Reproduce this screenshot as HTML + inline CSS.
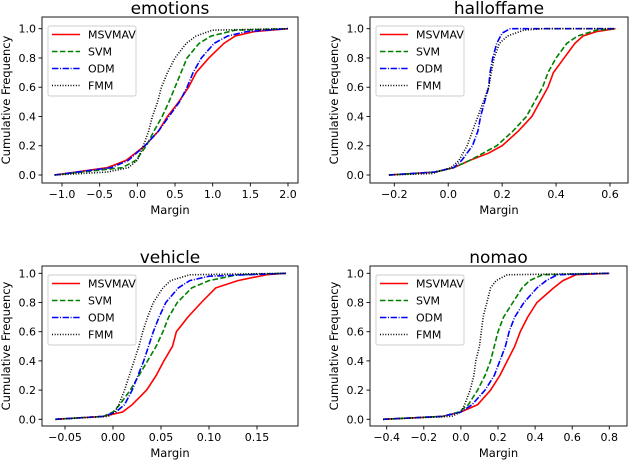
<!DOCTYPE html>
<html><head><meta charset="utf-8">
<style>
html,body{margin:0;padding:0;background:#fff;}
svg{display:block;font-family:"DejaVu Sans","Liberation Sans",sans-serif;}
</style></head>
<body>
<svg id="fig" width="630" height="462" viewBox="0 0 630 462"></svg>
<script>
// ---- data: cumulative frequency levels and margins ----
const seriesNames = ["MSVMAV","SVM","ODM","FMM"];
const emoMsvX = [-1.1,-0.4,-0.15,0.1,0.28,0.4,0.55,0.68,0.78,0.95,1.15,1.3,1.55,2.0];
const emoMsvY = [0,0.05,0.1,0.2,0.3,0.4,0.5,0.6,0.7,0.8,0.9,0.95,0.98,1.0];
const emoSvmX = [-1.1,-0.2,-0.02,0.12,0.22,0.33,0.42,0.5,0.58,0.66,0.82,0.98,1.3,2.0];
const emoSvmY = [0,0.05,0.1,0.2,0.3,0.4,0.5,0.6,0.7,0.8,0.9,0.95,0.99,1.0];
const emoOdmX = [-1.1,-0.35,-0.12,0.1,0.28,0.42,0.56,0.66,0.74,0.85,1.02,1.2,1.45,2.0];
const emoOdmY = [0,0.05,0.1,0.2,0.3,0.4,0.5,0.6,0.7,0.8,0.9,0.95,0.98,1.0];
const emoFmmX = [-1.1,-0.4,-0.12,0.0,0.08,0.15,0.2,0.27,0.32,0.4,0.5,0.65,0.78,1.0,2.0];
const emoFmmY = [0,0.02,0.05,0.1,0.2,0.3,0.4,0.5,0.6,0.7,0.8,0.9,0.95,0.99,1.0];

const hofMsvX = [-0.22,-0.05,0.02,0.08,0.15,0.2,0.26,0.31,0.34,0.37,0.39,0.43,0.47,0.5,0.55,0.62];
const hofMsvY = [0,0.02,0.05,0.1,0.15,0.2,0.3,0.4,0.5,0.6,0.7,0.8,0.9,0.95,0.98,1.0];
const hofSvmX = [-0.22,-0.05,0.02,0.08,0.13,0.18,0.24,0.29,0.32,0.35,0.37,0.4,0.44,0.48,0.55,0.62];
const hofSvmY = [0,0.02,0.05,0.1,0.15,0.2,0.3,0.4,0.5,0.6,0.7,0.8,0.9,0.95,0.99,1.0];
const hofOdmX = [-0.22,-0.05,0.02,0.05,0.09,0.11,0.12,0.135,0.15,0.155,0.165,0.18,0.2,0.23,0.62];
const hofOdmY = [0,0.02,0.05,0.1,0.2,0.3,0.4,0.5,0.6,0.7,0.8,0.9,0.97,1.0,1.0];
const hofFmmX = [-0.22,-0.06,0.01,0.04,0.07,0.09,0.11,0.13,0.15,0.16,0.17,0.19,0.22,0.28,0.35,0.62];
const hofFmmY = [0,0.01,0.05,0.1,0.2,0.3,0.4,0.5,0.6,0.7,0.8,0.9,0.95,0.99,1.0,1.0];

const vehMsvX = [-0.06,-0.01,0.01,0.02,0.035,0.045,0.053,0.062,0.066,0.078,0.092,0.107,0.13,0.16,0.18];
const vehMsvY = [0,0.02,0.05,0.1,0.2,0.3,0.4,0.5,0.6,0.7,0.8,0.9,0.95,0.99,1.0];
const vehSvmX = [-0.06,-0.01,0.0,0.007,0.018,0.027,0.036,0.045,0.052,0.058,0.067,0.082,0.1,0.13,0.18];
const vehSvmY = [0,0.02,0.05,0.1,0.2,0.3,0.4,0.5,0.6,0.7,0.8,0.9,0.95,0.99,1.0];
const vehOdmX = [-0.06,-0.01,0.003,0.012,0.02,0.026,0.032,0.037,0.042,0.048,0.055,0.068,0.08,0.1,0.18];
const vehOdmY = [0,0.02,0.05,0.1,0.2,0.3,0.4,0.5,0.6,0.7,0.8,0.9,0.95,0.98,1.0];
const vehFmmX = [-0.06,-0.005,0.002,0.006,0.012,0.017,0.022,0.027,0.031,0.036,0.042,0.052,0.06,0.08,0.18];
const vehFmmY = [0,0.02,0.05,0.1,0.2,0.3,0.4,0.5,0.6,0.7,0.8,0.9,0.95,0.99,1.0];

const nomMsvX = [-0.42,-0.1,0.0,0.09,0.16,0.21,0.25,0.29,0.32,0.36,0.41,0.5,0.55,0.62,0.8];
const nomMsvY = [0,0.02,0.05,0.1,0.2,0.3,0.4,0.5,0.6,0.7,0.8,0.9,0.95,0.99,1.0];
const nomSvmX = [-0.42,-0.1,-0.01,0.04,0.09,0.13,0.16,0.18,0.2,0.23,0.28,0.33,0.37,0.44,0.8];
const nomSvmY = [0,0.02,0.05,0.1,0.2,0.3,0.4,0.5,0.6,0.7,0.8,0.9,0.95,0.99,1.0];
const nomOdmX = [-0.42,-0.1,0.0,0.06,0.13,0.18,0.21,0.24,0.26,0.29,0.34,0.41,0.46,0.52,0.8];
const nomOdmY = [0,0.02,0.05,0.1,0.2,0.3,0.4,0.5,0.6,0.7,0.8,0.9,0.95,0.99,1.0];
const nomFmmX = [-0.42,-0.05,0.0,0.02,0.05,0.07,0.08,0.1,0.11,0.12,0.14,0.16,0.19,0.25,0.8];
const nomFmmY = [0,0.02,0.05,0.1,0.2,0.3,0.4,0.5,0.6,0.7,0.8,0.9,0.95,0.99,1.0];

const yTicks = [0,0.2,0.4,0.6,0.8,1.0];
const emoXTicks = [-1.0,-0.5,0.0,0.5,1.0,1.5,2.0];
const hofXTicks = [-0.2,0.0,0.2,0.4,0.6];
const vehXTicks = [-0.05,0.00,0.05,0.10,0.15];
const nomXTicks = [-0.4,-0.2,0.0,0.2,0.4,0.6,0.8];

const NS = "http://www.w3.org/2000/svg";
const svg = document.getElementById("fig");
function el(tag, attrs, parent){
  const e = document.createElementNS(NS, tag);
  for (const k in attrs) e.setAttribute(k, attrs[k]);
  (parent||svg).appendChild(e);
  return e;
}
const styles = [
  {stroke:"#ff0000", dash:""},
  {stroke:"#008000", dash:"5.5,2.4"},
  {stroke:"#0000ff", dash:"6.4,1.6,1,1.6"},
  {stroke:"#000000", dash:"1,1.65"}
];
const panels = [
  {key:"emotions", title:"emotions", L:42,R:298,T:17,B:183, v0:-1.0,p0:62,v1:2.0,p1:288, yz:175,yo:28.7, ticks:emoXTicks, dec:1,
   series:[[emoMsvX,emoMsvY],[emoSvmX,emoSvmY],[emoOdmX,emoOdmY],[emoFmmX,emoFmmY]]},
  {key:"halloffame", title:"halloffame", L:370,R:628,T:17,B:183, v0:-0.2,p0:394.3,v1:0.6,p1:610, yz:175,yo:28.7, ticks:hofXTicks, dec:1,
   series:[[hofMsvX,hofMsvY],[hofSvmX,hofSvmY],[hofOdmX,hofOdmY],[hofFmmX,hofFmmY]]},
  {key:"vehicle", title:"vehicle", L:42,R:298,T:266,B:426, v0:-0.05,p0:65,v1:0.15,p1:257, yz:419.3,yo:273.3, ticks:vehXTicks, dec:2,
   series:[[vehMsvX,vehMsvY],[vehSvmX,vehSvmY],[vehOdmX,vehOdmY],[vehFmmX,vehFmmY]]},
  {key:"nomao", title:"nomao", L:370,R:627,T:266,B:426, v0:-0.4,p0:386.7,v1:0.8,p1:609.3, yz:419.3,yo:273.3, ticks:nomXTicks, dec:1,
   series:[[nomMsvX,nomMsvY],[nomSvmX,nomSvmY],[nomOdmX,nomOdmY],[nomFmmX,nomFmmY]]}
];
function fmt(v,d){ const s=Math.abs(v).toFixed(d); return (v<-1e-9?"\u2212":"")+s; }

panels.forEach(P=>{
  const g = el("g",{});
  
  
  const xs = v => P.p0 + (v-P.v0)*(P.p1-P.p0)/(P.v1-P.v0);
  const ys = v => P.yz + v*(P.yo-P.yz);
  P.series.forEach((s,i)=>{
    const pts = s[0].map((x,j)=>xs(x).toFixed(2)+","+ys(s[1][j]).toFixed(2)).join(" ");
    const pl = el("polyline",{points:pts,fill:"none",stroke:styles[i].stroke,"stroke-width":1.6,"stroke-dasharray":styles[i].dash},g);
    
    
  });
  const fr = el("rect",{x:P.L,y:P.T,width:P.R-P.L,height:P.B-P.T,fill:"none",stroke:"#000","stroke-width":0.9},g);
  
  
  yTicks.forEach(t=>{
    const y=ys(t);
    el("line",{x1:P.L-3.5,x2:P.L,y1:y,y2:y,stroke:"#000","stroke-width":0.9},g);
    const tx = el("text",{x:P.L-6,y:y+4,"font-size":11,"text-anchor":"end",fill:"#000"},g);
    tx.textContent = t.toFixed(1);
    
    
  });
  P.ticks.forEach(t=>{
    const x=xs(t);
    el("line",{x1:x,x2:x,y1:P.B,y2:P.B+3.5,stroke:"#000","stroke-width":0.9},g);
    const tx = el("text",{x:x,y:P.B+15,"font-size":11,"text-anchor":"middle",fill:"#000"},g);
    tx.textContent = fmt(t,P.dec);
    
    
  });
  const xl = el("text",{x:(P.L+P.R)/2,y:P.B+31,"font-size":11.5,"text-anchor":"middle"},g);
  xl.textContent="Margin";
  
  
  const yl = el("text",{x:0,y:0,"font-size":11.5,"text-anchor":"middle",transform:"translate("+(P.L-32)+","+((P.T+P.B)/2)+") rotate(-90)"},g);
  yl.textContent="Cumulative Frequency";
  
  
  const tt = el("text",{x:(P.L+P.R)/2,y:P.T-3,"font-size":17,"text-anchor":"middle"},g);
  tt.textContent=P.title;
  
  
  const lg = el("g",{},g);
  
  
  const lx=P.L+6, ly=P.T+9;
  el("rect",{x:lx,y:ly,width:88,height:70,rx:2,fill:"#fff","fill-opacity":0.8,stroke:"#ccc","stroke-width":0.9},lg);
  seriesNames.forEach((n,i)=>{
    const yy = ly+8.5+i*17;
    el("line",{x1:lx+4,x2:lx+32,y1:yy,y2:yy,stroke:styles[i].stroke,"stroke-width":1.6,"stroke-dasharray":styles[i].dash},lg);
    const t = el("text",{x:lx+40,y:yy+4,"font-size":11},lg);
    t.textContent=n;
    
    
  });
});
</script>
</body></html>
